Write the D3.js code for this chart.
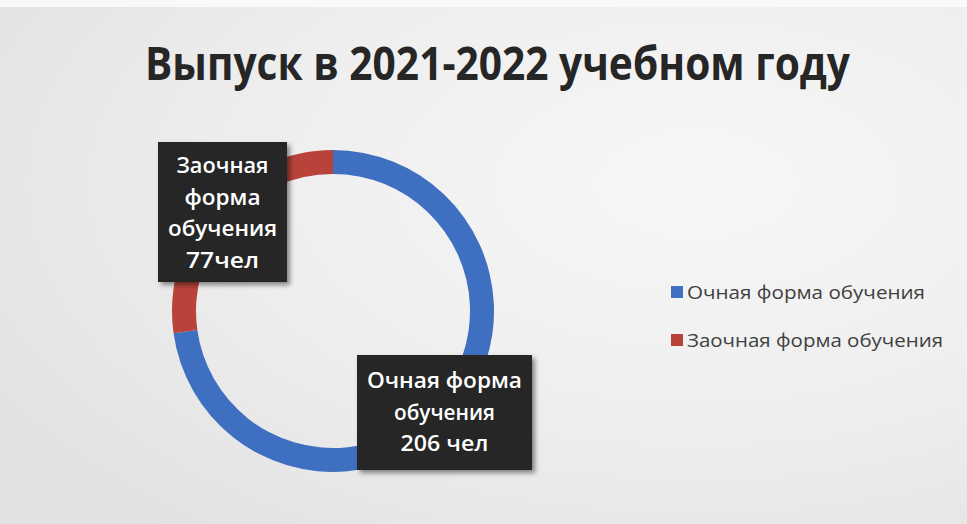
<!DOCTYPE html>
<html>
<head>
<meta charset="utf-8">
<script src="https://cdn.jsdelivr.net/npm/d3@7"></script>
<style>
html,body{margin:0;padding:0;background:#ececec;}
svg{display:block;}
</style>
</head>
<body>
<svg id="chart" width="967" height="524"></svg>
<script>
const title = "Выпуск в 2021-2022 учебном году";
const categories = ["Очная форма обучения", "Заочная форма обучения"];
const values = [206, 77];
const colors = ["#3f6fc0", "#b9433b"];
const labelLines = [["Очная форма", "обучения", "206 чел"], ["Заочная", "форма", "обучения", "77чел"]];

const W = 967, H = 524;
const svg = d3.select("#chart");
const defs = svg.append("defs");

const bg = defs.append("radialGradient").attr("id", "bg")
  .attr("cx", "0.72").attr("cy", "0.35").attr("r", "0.85");
bg.append("stop").attr("offset", "0").attr("stop-color", "#f7f7f7");
bg.append("stop").attr("offset", "0.55").attr("stop-color", "#eeeeee");
bg.append("stop").attr("offset", "1").attr("stop-color", "#e2e2e2");

const sh = defs.append("filter").attr("id", "shadow")
  .attr("x", "-10%").attr("y", "-10%").attr("width", "130%").attr("height", "130%");
sh.append("feDropShadow").attr("dx", 3).attr("dy", 3).attr("stdDeviation", 2.5)
  .attr("flood-color", "#000").attr("flood-opacity", 0.45);

svg.append("rect").attr("width", W).attr("height", H).attr("fill", "url(#bg)");
svg.append("rect").attr("width", W).attr("height", 7).attr("fill", "#f9f9f9");

const font = "'Open Sans', 'Noto Sans', 'DejaVu Sans', sans-serif";

// title
svg.append("text")
  .attr("x", 145).attr("y", 80)
  .attr("font-family", font).attr("font-weight", 700)
  .attr("font-size", 46).attr("fill", "#262626")
  .attr("textLength", 705).attr("lengthAdjust", "spacingAndGlyphs")
  .text(title);

// donut
const cx = 333, cy = 311, rOuter = 161, rInner = 137;
const pie = d3.pie().sort(null).value(d => d);
const arc = d3.arc().innerRadius(rInner).outerRadius(rOuter);
const arcs = pie(values);
const color = d3.scaleOrdinal().domain(categories).range(colors);

svg.append("g").attr("transform", `translate(${cx},${cy})`)
  .selectAll("path").data(arcs).join("path")
  .attr("d", arc)
  .attr("fill", (d, i) => color(categories[i]));

// data labels (boxes)
const boxes = [
  {x: 357, y: 355, w: 175, h: 115, baseline: 388, widths: [155, 101, 88]},
  {x: 158, y: 142, w: 129, h: 140, baseline: 173, widths: [92, 76, 109, 73]}
];
const lineH = 31.5;
arcs.forEach((a, i) => {
  const b = boxes[i];
  const g = svg.append("g");
  g.append("rect").attr("x", b.x).attr("y", b.y).attr("width", b.w).attr("height", b.h)
    .attr("fill", "#282828").attr("filter", "url(#shadow)");
  labelLines[i].forEach((t, j) => {
    g.append("text")
      .attr("x", b.x + b.w / 2).attr("y", b.baseline + j * lineH)
      .attr("text-anchor", "middle")
      .attr("font-family", font).attr("font-weight", 600)
      .attr("font-size", 22).attr("fill", "#ffffff")
      .attr("textLength", b.widths[j]).attr("lengthAdjust", "spacingAndGlyphs")
      .text(t);
  });
});

// legend
const legend = svg.append("g");
const legY = [299, 347];
const legW = [238, 256];
categories.forEach((c, i) => {
  legend.append("rect").attr("x", 671).attr("y", legY[i] - 13).attr("width", 12).attr("height", 12)
    .attr("fill", color(c));
  legend.append("text").attr("x", 687).attr("y", legY[i])
    .attr("font-family", font).attr("font-size", 18).attr("fill", "#404040")
    .attr("textLength", legW[i]).attr("lengthAdjust", "spacingAndGlyphs")
    .text(c);
});
</script>
</body>
</html>
